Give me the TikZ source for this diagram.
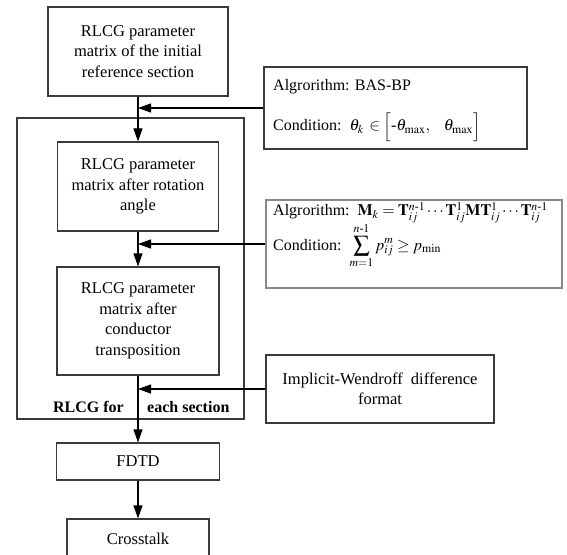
\documentclass[tikz,border=0pt]{standalone}
\usepackage{amsmath}
\usepackage{mathptmx}
\usepackage{fontspec}
\setmainfont{Liberation Serif}
\usetikzlibrary{arrows.meta}
\newcommand\mainfs{\fontsize{16.5bp}{20.5bp}\selectfont}
\newcommand\algfs{\fontsize{16bp}{19bp}\selectfont}
\definecolor{boxgray}{HTML}{3A3A3A}
\definecolor{lightgray}{HTML}{8A8A8A}
\begin{document}
\begin{tikzpicture}[x={(1bp,0bp)},y={(0bp,-1bp)},
  box/.style={draw=boxgray, line width=1.1bp, align=center, inner sep=0pt, font=\mainfs},
  lbox/.style={box, draw=lightgray},
  arr/.style={draw=black, line width=1.1bp, -{Triangle[length=13bp,width=9bp]}},
  txt/.style={inner sep=0pt, font=\algfs, anchor=base west},
  lab/.style={inner sep=0pt, font=\algfs\bfseries, anchor=base}
]
\useasboundingbox (0,0) rectangle (567,555);
\clip (0,0) rectangle (567,555);
\node[box, minimum width=227bp, minimum height=301bp] (outer) at (130.5,268.5) {};
\node[box, minimum width=180bp, minimum height=89bp] (b1) at (138,51.5) {RLCG parameter\\matrix of the initial\\reference section};
\node[box, minimum width=161bp, minimum height=89bp] (b2) at (138,186.5) {RLCG parameter\\matrix after rotation\\angle};
\node[box, minimum width=162bp, minimum height=108bp] (b3) at (138,321) {RLCG parameter\\matrix after\\conductor\\transposition};
\node[box, minimum width=163bp, minimum height=37bp] (fdtd) at (138,461.5) {FDTD};
\node[box, minimum width=142bp, minimum height=40bp] (cross) at (138,539) {Crosstalk};
\node[box, minimum width=263bp, minimum height=82bp] (algo1) at (395.5,108) {};
\node[lbox, minimum width=296bp, minimum height=88bp] (algo2) at (414,244) {};
\node[box, minimum width=228bp, minimum height=68bp] (impl) at (380,389) {Implicit-Wendroff\ \ difference\\format};
\node[txt] (a1l1) at (273,91) {Algrorithm: BAS-BP};
\node[txt] (a1l2) at (273,131) {Condition:\ \ $\theta_k\, \in \Big[\text{-}\theta_{\max},\ \ \ \theta_{\max}\Big]$};
\node[txt] (a2l1) at (273,216) {Algrorithm:\ \ $\mathbf{M}_k = \mathbf{T}_{ij}^{n\text{-}1}\cdots\mathbf{T}_{ij}^{1}\mathbf{M}\mathbf{T}_{ij}^{1}\cdots\mathbf{T}_{ij}^{n\text{-}1}$};
\node[txt] (a2l2) at (273,250) {Condition:\ \ $\displaystyle\sum_{m=1}^{n\text{-}1} p_{ij}^{m} \ge p_{\min}$};
\node[lab, anchor=base east] (s1) at (124,412) {RLCG for};
\node[lab, anchor=base west] (s2) at (147,412) {each section};
\draw[arr] (b1.south) -- (b2.north);
\draw[arr] (algo1.west) -- (algo1.west -| b1.south);
\draw[arr] (b2.south) -- (b3.north);
\draw[arr] (algo2.west) -- (algo2.west -| b2.south);
\draw[arr] (b3.south) -- (fdtd.north);
\draw[arr] (impl.west) -- (impl.west -| b3.south);
\draw[arr] (fdtd.south) -- (cross.north);
\end{tikzpicture}
\end{document}
